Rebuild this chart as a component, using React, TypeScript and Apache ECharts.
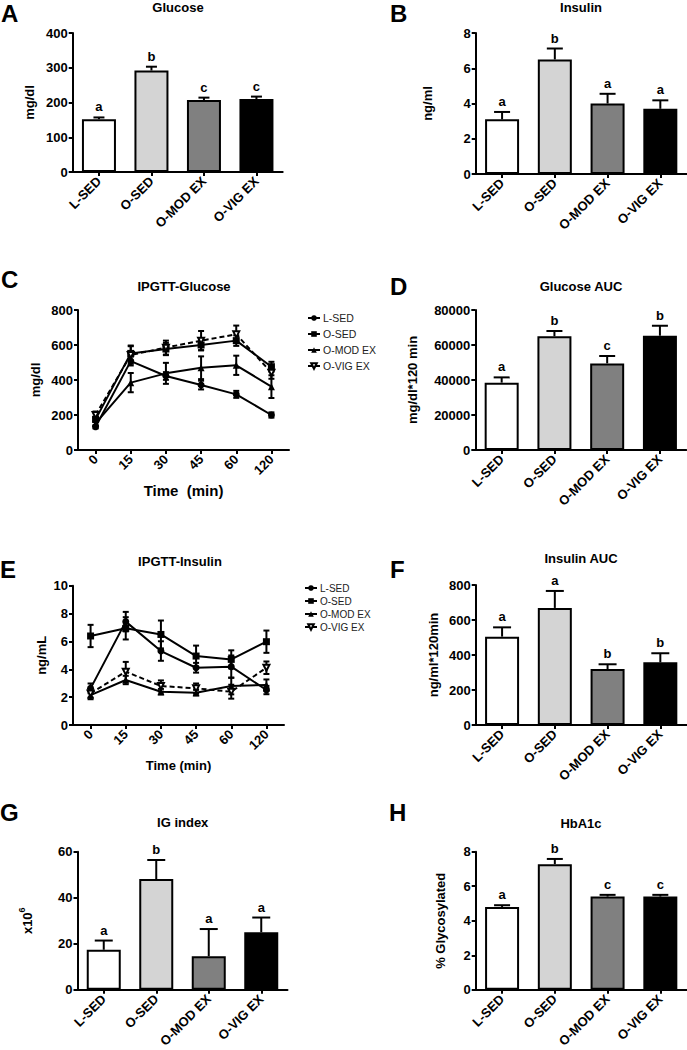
import React, { useEffect, useRef } from 'react';
import * as echarts from 'echarts';

const FONT = '"Liberation Sans", Arial, Helvetica, sans-serif';

// ---------- data ----------
const groups = ['L-SED', 'O-SED', 'O-MOD EX', 'O-VIG EX'];
const barColors = ['#ffffff', '#d4d4d4', '#808080', '#000000'];
const timePoints = ['0', '15', '30', '45', '60', '120'];

const glucoseMean = [152, 292, 207, 210];
const glucoseSem = [5, 11, 7, 7];
const glucoseLetters = ['a', 'b', 'c', 'c'];

const insulinMean = [3.1, 6.5, 4.0, 3.7];
const insulinSem = [0.42, 0.62, 0.55, 0.48];
const insulinLetters = ['a', 'b', 'a', 'a'];

const glucoseAucMean = [38500, 65000, 49500, 65300];
const glucoseAucSem = [3000, 3000, 4200, 5700];
const glucoseAucLetters = ['a', 'b', 'c', 'b'];

const insulinAucMean = [505, 669, 320, 358];
const insulinAucSem = [53, 97, 27, 52];
const insulinAucLetters = ['a', 'a', 'b', 'b'];

const igIndexMean = [17.4, 48.1, 14.6, 25.0];
const igIndexSem = [4.0, 8.3, 11.8, 6.4];
const igIndexLetters = ['a', 'b', 'a', 'a'];

const hba1cMean = [4.8, 7.28, 5.4, 5.4];
const hba1cSem = [0.1, 0.3, 0.1, 0.1];
const hba1cLetters = ['a', 'b', 'c', 'c'];

// IPGTT glucose (mg/dl)
const gttGlucoseLSED = [133, 508, 423, 371, 318, 200];
const gttGlucoseLSEDSem = [10, 25, 22, 25, 20, 15];
const gttGlucoseOSED = [175, 552, 577, 600, 625, 476];
const gttGlucoseOSEDSem = [15, 45, 35, 30, 30, 28];
const gttGlucoseOMOD = [152, 385, 438, 470, 484, 362];
const gttGlucoseOMODSem = [15, 55, 60, 65, 55, 65];
const gttGlucoseOVIG = [200, 543, 585, 625, 661, 442];
const gttGlucoseOVIGSem = [20, 50, 40, 55, 50, 35];

// IPGTT insulin (ng/mL)
const gttInsulinLSED = [2.63, 7.42, 5.31, 4.11, 4.19, 2.51];
const gttInsulinLSEDSem = [0.35, 0.7, 0.7, 0.35, 0.8, 0.3];
const gttInsulinOSED = [6.39, 6.94, 6.5, 4.95, 4.71, 5.98];
const gttInsulinOSEDSem = [0.8, 0.8, 1.0, 0.75, 0.65, 0.8];
const gttInsulinOMOD = [2.15, 3.23, 2.39, 2.32, 2.8, 2.87];
const gttInsulinOMODSem = [0.3, 0.3, 0.2, 0.2, 0.6, 0.4];
const gttInsulinOVIG = [2.27, 3.83, 2.8, 2.63, 2.39, 4.11];
const gttInsulinOVIGSem = [0.3, 0.7, 0.4, 0.35, 0.5, 0.45];

const lineSymbols = ['circle', 'rect', 'triangle', 'emptyTriangle'];
const lineSymbolRotate = [0, 0, 0, 180];
const lineSymbolSizes = [7, 7, 7, 6];
const lineTypes = ['solid', 'solid', 'solid', 'dashed'];

// ---------- helpers ----------
type G = { left: number; top: number; width: number; height: number };

const axisLineStyle = { show: true, lineStyle: { color: '#000', width: 2 } };
const tickStyle = { show: true, length: 4, lineStyle: { color: '#000', width: 2 } };

function yAxisDef(gi: number, max: number, interval: number, name: any, nameGap: number, rich?: any) {
  return {
    type: 'value',
    gridIndex: gi,
    min: 0,
    max,
    interval,
    name,
    nameLocation: 'middle',
    nameRotate: 90,
    nameGap,
    nameTextStyle: { fontFamily: FONT, fontSize: 13, fontWeight: 'bold', color: '#000', rich },
    axisLine: axisLineStyle,
    axisTick: tickStyle,
    splitLine: { show: false },
    axisLabel: {
      fontFamily: FONT,
      fontSize: 13,
      fontWeight: 'bold',
      color: '#000',
      margin: 5,
      formatter: (v: number) => String(v),
    },
  };
}

function xAxisCat(gi: number, data: string[], name?: string, nameGap?: number, nameSize?: number) {
  return {
    type: 'category',
    gridIndex: gi,
    data,
    name,
    nameLocation: 'middle',
    nameGap,
    nameTextStyle: { fontFamily: FONT, fontSize: nameSize || 13, fontWeight: 'bold', color: '#000' },
    axisLine: axisLineStyle,
    axisTick: { ...tickStyle, alignWithLabel: true },
    axisLabel: { fontFamily: FONT, fontSize: 13, fontWeight: 'bold', color: '#000', rotate: 45, margin: 7, interval: 0 },
  };
}

function barErrRender(letters: string[], capW: number) {
  return (params: any, api: any) => {
    const i = api.value(0);
    const m = api.value(1);
    const e = api.value(2);
    const base = api.coord([i, m]);
    const top = api.coord([i, m + e]);
    return {
      type: 'group',
      children: [
        { type: 'line', shape: { x1: base[0], y1: base[1], x2: top[0], y2: top[1] }, style: { stroke: '#000', lineWidth: 2 } },
        { type: 'line', shape: { x1: top[0] - capW / 2, y1: top[1], x2: top[0] + capW / 2, y2: top[1] }, style: { stroke: '#000', lineWidth: 2 } },
        {
          type: 'text',
          x: top[0],
          y: top[1] - 4,
          style: {
            text: letters[params.dataIndex],
            fill: '#000',
            font: `bold 13px ${FONT}`,
            align: 'center',
            verticalAlign: 'bottom',
            textAlign: 'center',
            textVerticalAlign: 'bottom',
          },
        },
      ],
    };
  };
}

function lineErrRender(capW: number) {
  return (_params: any, api: any) => {
    const i = api.value(0);
    const m = api.value(1);
    const e = api.value(2);
    const lo = api.coord([i, m - e]);
    const hi = api.coord([i, m + e]);
    return {
      type: 'group',
      children: [
        { type: 'line', shape: { x1: lo[0], y1: lo[1], x2: hi[0], y2: hi[1] }, style: { stroke: '#000', lineWidth: 2 } },
        { type: 'line', shape: { x1: hi[0] - capW / 2, y1: hi[1], x2: hi[0] + capW / 2, y2: hi[1] }, style: { stroke: '#000', lineWidth: 2 } },
        { type: 'line', shape: { x1: lo[0] - capW / 2, y1: lo[1], x2: lo[0] + capW / 2, y2: lo[1] }, style: { stroke: '#000', lineWidth: 2 } },
      ],
    };
  };
}

function barSeries(gi: number, name: string, mean: number[], sem: number[], letters: string[], capW: number) {
  return [
    {
      type: 'bar',
      name,
      xAxisIndex: gi,
      yAxisIndex: gi,
      barWidth: 34,
      data: mean.map((v, i) => ({ value: v, itemStyle: { color: barColors[i] } })),
      itemStyle: { borderColor: '#000', borderWidth: 2 },
      z: 2,
    },
    {
      type: 'custom',
      name: name + ' err',
      xAxisIndex: gi,
      yAxisIndex: gi,
      clip: false,
      z: 3,
      encode: { x: 0, y: 1 },
      data: mean.map((v, i) => [i, v, sem[i]]),
      renderItem: barErrRender(letters, capW),
    },
  ];
}

function lineSeries(gi: number, means: number[][], sems: number[][]) {
  const out: any[] = [];
  means.forEach((m, k) => {
    out.push({
      type: 'line',
      name: groups[k],
      xAxisIndex: gi,
      yAxisIndex: gi,
      data: m,
      symbol: lineSymbols[k],
      symbolRotate: lineSymbolRotate[k],
      symbolSize: lineSymbolSizes[k],
      showAllSymbol: true,
      lineStyle: { color: '#000', width: 2, type: lineTypes[k] === 'dashed' ? [5, 3] : 'solid' },
      itemStyle: { color: '#000', borderColor: '#000', borderWidth: k === 3 ? 1.5 : 0 },
      z: 3,
    });
    out.push({
      type: 'custom',
      name: groups[k] + ' err ' + gi,
      xAxisIndex: gi,
      yAxisIndex: gi,
      clip: false,
      z: 2,
      encode: { x: 0, y: 1 },
      data: m.map((v, i) => [i, v, sems[k][i]]),
      renderItem: lineErrRender(6),
    });
  });
  return out;
}

function txt(text: string, x: number, y: number, size: number, align = 'center') {
  return {
    type: 'text',
    x,
    y,
    silent: true,
    style: {
      text,
      fill: '#000',
      font: `bold ${size}px ${FONT}`,
      align,
      verticalAlign: 'middle',
      textAlign: align,
      textVerticalAlign: 'middle',
    },
  };
}

export default function App() {
  const ref = useRef<HTMLDivElement>(null);

  useEffect(() => {
    if (!ref.current) return;
    const chart = echarts.init(ref.current, undefined, { renderer: 'svg' });

    const grids: G[] = [
      { left: 72.7, top: 33, width: 210, height: 139 }, // A
      { left: 475.7, top: 33, width: 211, height: 141 }, // B
      { left: 78, top: 310, width: 211, height: 140 }, // C
      { left: 475.3, top: 310, width: 211, height: 140 }, // D
      { left: 73, top: 585.7, width: 211, height: 139.3 }, // E
      { left: 475.7, top: 585, width: 211, height: 140 }, // F
      { left: 77.5, top: 851.7, width: 210, height: 140 }, // G
      { left: 475.7, top: 851.7, width: 211, height: 140 }, // H
    ];

    const option: any = {
      animation: false,
      textStyle: { fontFamily: FONT },
      grid: grids.map((g) => ({ ...g, containLabel: false })),
      xAxis: [
        xAxisCat(0, groups),
        xAxisCat(1, groups),
        xAxisCat(2, timePoints, 'Time  (min)', 33, 15),
        xAxisCat(3, groups),
        xAxisCat(4, timePoints, 'Time (min)', 34, 13),
        xAxisCat(5, groups),
        xAxisCat(6, groups),
        xAxisCat(7, groups),
      ],
      yAxis: [
        yAxisDef(0, 400, 100, 'mg/dl', 37),
        yAxisDef(1, 8, 2, 'ng/ml', 42),
        yAxisDef(2, 800, 200, 'mg/dl', 36),
        yAxisDef(3, 80000, 20000, 'mg/dl*120 min', 56),
        yAxisDef(4, 10, 2, 'ng/mL', 25),
        yAxisDef(5, 800, 200, 'ng/ml*120min', 36),
        yAxisDef(6, 60, 20, '{a|x10}{b|6}', 44, {
          a: { fontFamily: FONT, fontSize: 13, fontWeight: 'bold', color: '#000', lineHeight: 16, verticalAlign: 'bottom' },
          b: { fontFamily: FONT, fontSize: 9, fontWeight: 'bold', color: '#000', lineHeight: 16, verticalAlign: 'top' },
        }),
        yAxisDef(7, 8, 2, '% Glycosylated', 29),
      ],
      legend: [
        {
          data: groups,
          orient: 'vertical',
          left: 307,
          top: 312,
          itemWidth: 12,
          itemHeight: 7,
          itemGap: 4,
          padding: 0,
          selectedMode: false,
          textStyle: { fontFamily: FONT, fontSize: 10.5, color: '#222', lineHeight: 12, padding: [0, 0, 0, -2] },
        },
        {
          data: groups,
          orient: 'vertical',
          left: 304,
          top: 582,
          itemWidth: 12,
          itemHeight: 7,
          itemGap: 1,
          padding: 0,
          selectedMode: false,
          textStyle: { fontFamily: FONT, fontSize: 10, color: '#222', lineHeight: 12, padding: [0, 0, 0, -2] },
        },
      ],
      graphic: [
        txt('A', 1, 13.3, 24, 'left'),
        txt('B', 390, 13.3, 24, 'left'),
        txt('C', 1, 279.5, 24, 'left'),
        txt('D', 390, 286.3, 24, 'left'),
        txt('E', 0, 569, 24, 'left'),
        txt('F', 390, 569.5, 24, 'left'),
        txt('G', 0, 812.8, 24, 'left'),
        txt('H', 389, 812.3, 24, 'left'),
        txt('Glucose', 178, 7.5, 13),
        txt('Insulin', 581, 7.5, 13),
        txt('IPGTT-Glucose', 184, 286.7, 13),
        txt('Glucose AUC', 581, 286.8, 13),
        txt('IPGTT-Insulin', 180, 561.7, 13),
        txt('Insulin AUC', 581, 558, 13),
        txt('IG index', 182.7, 822.5, 13),
        txt('HbA1c', 581, 823.5, 13),
      ],
      series: [
        ...barSeries(0, 'Glucose', glucoseMean, glucoseSem, glucoseLetters, 11),
        ...barSeries(1, 'Insulin', insulinMean, insulinSem, insulinLetters, 16),
        ...lineSeries(
          2,
          [gttGlucoseLSED, gttGlucoseOSED, gttGlucoseOMOD, gttGlucoseOVIG],
          [gttGlucoseLSEDSem, gttGlucoseOSEDSem, gttGlucoseOMODSem, gttGlucoseOVIGSem]
        ),
        ...barSeries(3, 'Glucose AUC', glucoseAucMean, glucoseAucSem, glucoseAucLetters, 16),
        ...lineSeries(
          4,
          [gttInsulinLSED, gttInsulinOSED, gttInsulinOMOD, gttInsulinOVIG],
          [gttInsulinLSEDSem, gttInsulinOSEDSem, gttInsulinOMODSem, gttInsulinOVIGSem]
        ),
        ...barSeries(5, 'Insulin AUC', insulinAucMean, insulinAucSem, insulinAucLetters, 18),
        ...barSeries(6, 'IG index', igIndexMean, igIndexSem, igIndexLetters, 18),
        ...barSeries(7, 'HbA1c', hba1cMean, hba1cSem, hba1cLetters, 16),
      ],
    };

    chart.setOption(option);
    return () => chart.dispose();
  }, []);

  return (
    <div
      ref={ref}
      style={{ position: 'absolute', left: 0, top: 0, width: 687, height: 1050, background: '#fff' }}
    />
  );
}
